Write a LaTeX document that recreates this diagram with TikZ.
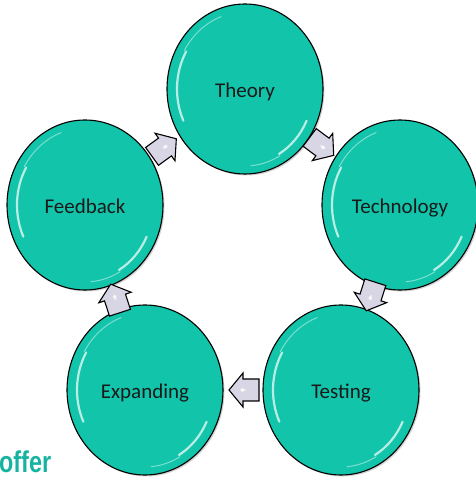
\documentclass[tikz,border=0pt]{standalone}
\usepackage{fontspec}
\setmainfont{Carlito}
\newfontfamily\offerfont{Liberation Sans}
\usetikzlibrary{shapes.geometric,shadows}
\definecolor{bubteal}{RGB}{18,196,170}
\definecolor{offerteal}{RGB}{22,180,160}
\definecolor{arrowfill}{RGB}{216,213,229}
\tikzset{
  bubble/.style={ellipse, draw=black, line width=1.1pt, fill=bubteal,
    minimum width=156pt, minimum height=170pt, inner sep=0pt,
    text height=18pt, text depth=0pt,
    font=\fontsize{21}{25}\selectfont, text=black!90,
    drop shadow={shadow xshift=1.5pt, shadow yshift=-1.5pt, opacity=0.35}},
  gloss/.style={white, line width=2.2pt, opacity=0.7, line cap=round},
  glossthin/.style={white, line width=1pt, opacity=0.45, line cap=round},
  arrowbody/.style={draw=black, line width=1.1pt, fill=arrowfill, line join=miter},
  flowarrow/.pic={
    \draw[arrowbody] (-16pt,-11pt) -- (0pt,-11pt) -- (0pt,-17pt) -- (14pt,0pt)
      -- (0pt,17pt) -- (0pt,11pt) -- (-16pt,11pt) -- cycle;
    \fill[white, opacity=0.8] (-3pt,0pt) -- (1pt,2pt) -- (3pt,0pt) -- (1pt,-2pt) -- cycle;
  },
  glosspic/.pic={
    \draw[gloss] (150:68pt and 75pt) arc[start angle=150, end angle=205, x radius=68pt, y radius=75pt];
    \draw[glossthin] (110:70pt and 77pt) arc[start angle=110, end angle=150, x radius=70pt, y radius=77pt];
    \draw[gloss] (-25:68pt and 75pt) arc[start angle=-25, end angle=-60, x radius=68pt, y radius=75pt];
    \draw[glossthin] (-60:70pt and 77pt) arc[start angle=-60, end angle=-85, x radius=70pt, y radius=77pt];
  }
}
\begin{document}
\begin{tikzpicture}[x=1pt,y=1pt]
\useasboundingbox (0,0) rectangle (475,477);
\node[bubble] (theory) at (245,388) {Theory};
\node[bubble] (technology) at (400,272) {Technology};
\node[bubble] (testing) at (341,87) {Testing};
\node[bubble] (expanding) at (145,87) {Expanding};
\node[bubble] (feedback) at (85,272) {Feedback};
\foreach \n in {theory,technology,testing,expanding,feedback}
  \pic at (\n.center) {glosspic};
\path (theory) -- (technology) pic[pos=0.5, sloped, allow upside down] {flowarrow};
\path (technology) -- (testing) pic[pos=0.5, sloped, allow upside down] {flowarrow};
\path (testing) -- (expanding) pic[pos=0.5, sloped, allow upside down] {flowarrow};
\path (expanding) -- (feedback) pic[pos=0.5, sloped, allow upside down] {flowarrow};
\path (feedback) -- (theory) pic[pos=0.5, sloped, allow upside down] {flowarrow};
\node[anchor=base west, inner sep=0pt, text=offerteal, xscale=0.78,
  font=\offerfont\bfseries\fontsize{30}{32}\selectfont] (offer) at (-1,5) {offer};
\end{tikzpicture}
\end{document}
